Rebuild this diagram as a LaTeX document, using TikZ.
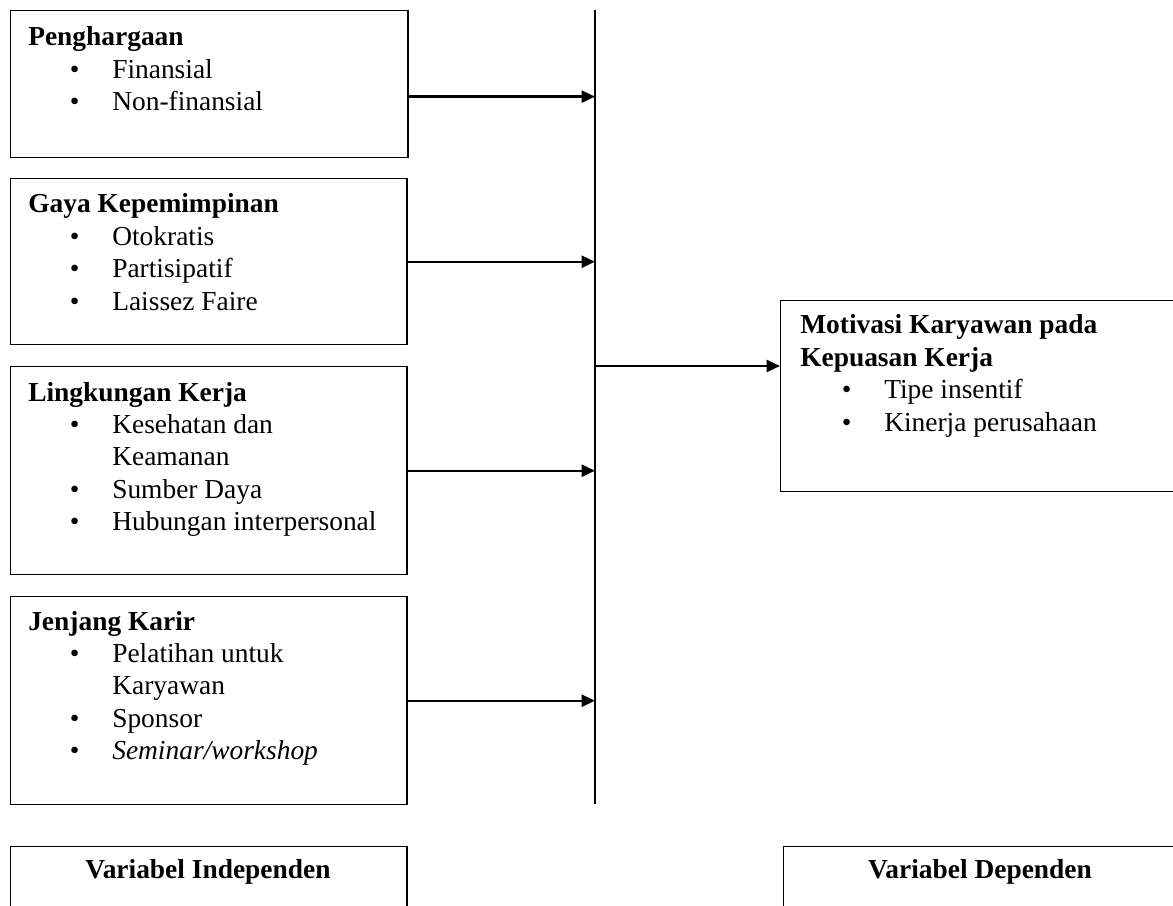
\documentclass[tikz,border=0pt]{standalone}
\usepackage{fontspec}
\setmainfont{Liberation Serif}
\usetikzlibrary{arrows.meta}

\newcommand{\itm}[1]{\hspace*{1.04cm}\makebox[1.06cm][l]{\textbullet}#1}
\newcommand{\cont}[1]{\hspace*{2.1cm}#1}

\begin{document}
\begin{tikzpicture}[x=0.025cm,y=-0.025cm,
  box/.style={draw,line width=1pt,anchor=north west,inner sep=0pt},
  txt/.style={anchor=base west,inner sep=0pt,text width=9.2cm,align=flush left,
    font=\fontsize{19.5}{23.1}\selectfont},
  lbl/.style={anchor=base,inner sep=0pt,font=\fontsize{19.5}{23.1}\selectfont\bfseries},
  arr/.style={line width=1.7pt,-{Triangle[length=9.5pt,width=8.5pt]}}]
       \useasboundingbox (0,0) rectangle (1173,906);

       % left boxes
       \node[box,minimum width=9.925cm,minimum height=3.675cm] (reward) at (10,10) {};
       \node[box,minimum width=9.9cm,minimum height=4.15cm] (lead) at (10,178) {};
       \node[box,minimum width=9.9cm,minimum height=5.2cm] (env) at (10,366) {};
       \node[box,minimum width=9.9cm,minimum height=5.2cm] (career) at (10,596) {};

       \node[txt] (rewardtxt) at (28,46) {\textbf{Penghargaan}\\
         \itm{Finansial}\\
         \itm{Non-finansial}};
       \node[txt] (leadtxt) at (28,213) {\textbf{Gaya Kepemimpinan}\\
         \itm{Otokratis}\\
         \itm{Partisipatif}\\
         \itm{Laissez Faire}};
       \node[txt] (envtxt) at (28,401) {\textbf{Lingkungan Kerja}\\
         \itm{Kesehatan dan}\\
         \cont{Keamanan}\\
         \itm{Sumber Daya}\\
         \itm{Hubungan interpersonal}};
       \node[txt] (careertxt) at (28,630) {\textbf{Jenjang Karir}\\
         \itm{Pelatihan untuk}\\
         \cont{Karyawan}\\
         \itm{Sponsor}\\
         \itm{\textit{Seminar/workshop}}};

       % right box
       \node[box,minimum width=10.3cm,minimum height=4.775cm] (motiv) at (780,300) {};
       \node[txt] (motivtxt) at (800,334) {\textbf{Motivasi Karyawan pada}\\
         \textbf{Kepuasan Kerja}\\
         \itm{Tipe insentif}\\
         \itm{Kinerja perusahaan}};

       % bus line
       \coordinate (bustop) at (595,10);
       \coordinate (busbot) at (595,804);
       \coordinate (busout) at (595,366);
       \draw[line width=1pt] (bustop) -- (busbot);

       \draw[arr] ([yshift=-0.31cm]reward.east) -- ([yshift=-0.31cm]reward.east -| bustop);
       \draw[arr] (lead.east) -- (lead.east -| bustop);
       \draw[arr] (env.east) -- (env.east -| bustop);
       \draw[arr] (career.east) -- (career.east -| bustop);
       \draw[arr] (busout) -- (busout -| motiv.west);

       % bottom labels
       \node[box,minimum width=9.9cm,minimum height=2.5cm] (indep) at (10,846) {};
       \node[box,minimum width=10.3cm,minimum height=2.5cm] (dep) at (783,846) {};
       \node[lbl] (indeplbl) at (208,878) {Variabel Independen};
       \node[lbl] (deplbl) at (980,878) {Variabel Dependen};
     \end{tikzpicture}
\end{document}
